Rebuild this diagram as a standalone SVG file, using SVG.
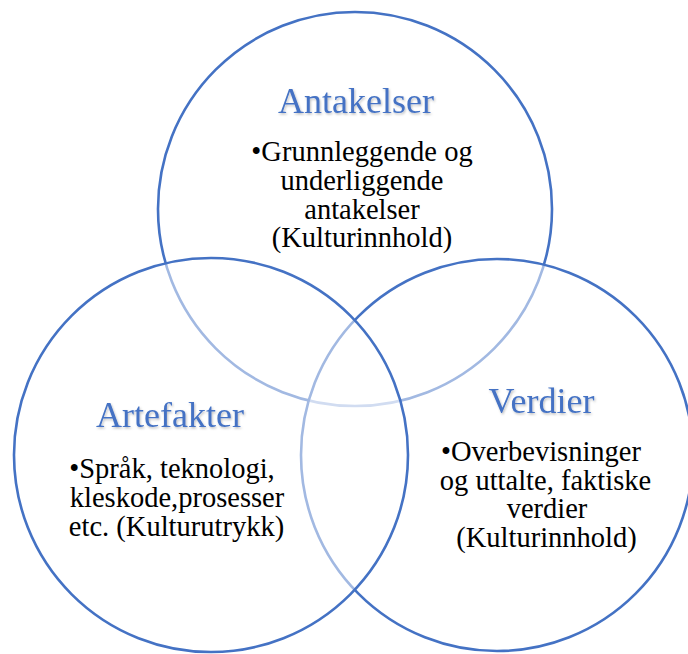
<svg xmlns="http://www.w3.org/2000/svg" width="688" height="654" viewBox="0 0 688 654">
  <defs>
    <filter id="soft" x="-10%" y="-30%" width="120%" height="160%">
      <feDropShadow dx="1" dy="1.5" stdDeviation="1" flood-color="#000" flood-opacity="0.25"/>
    </filter>
  </defs>
  <style>
    .ring { fill: #ffffff; fill-opacity: 0.5; stroke: #4472C4; stroke-width: 2.6; }
    .title { font-family: "Liberation Serif", "Times New Roman", serif; font-size: 36px; fill: #4472C4; text-anchor: middle; filter: url(#soft); }
    .body { font-family: "Liberation Serif", "Times New Roman", serif; font-size: 28.5px; fill: #000000; text-anchor: middle; }
  </style>
  <rect width="688" height="654" fill="#ffffff"/>
  <g id="connectors"/>
  <g id="antakelser">
    <circle class="ring" cx="355" cy="209" r="197"/>
    <text class="title" x="356" y="113">Antakelser</text>
    <text class="body" x="362" y="161">•Grunnleggende og</text>
    <text class="body" x="362" y="190">underliggende</text>
    <text class="body" x="362" y="218.5">antakelser</text>
    <text class="body" x="362" y="247">(Kulturinnhold)</text>
  </g>
  <g id="verdier">
    <circle class="ring" cx="497" cy="455" r="196"/>
    <text class="title" x="541.5" y="413">Verdier</text>
    <text class="body" x="541" y="461">•Overbevisninger</text>
    <text class="body" x="545.5" y="489.5">og uttalte, faktiske</text>
    <text class="body" x="547" y="518">verdier</text>
    <text class="body" x="546.5" y="546.5">(Kulturinnhold)</text>
  </g>
  <g id="artefakter">
    <circle class="ring" cx="211" cy="455" r="197"/>
    <text class="title" x="170" y="427">Artefakter</text>
    <text class="body" x="172" y="478">•Språk, teknologi,</text>
    <text class="body" x="177" y="507">kleskode,prosesser</text>
    <text class="body" x="176.5" y="535.5">etc. (Kulturutrykk)</text>
  </g>
</svg>
